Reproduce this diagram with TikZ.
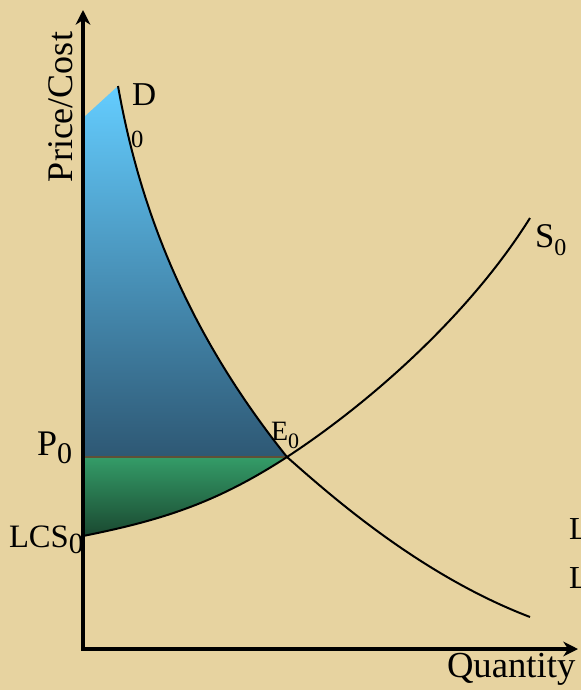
\documentclass[tikz,border=0pt]{standalone}
\usepackage{fontspec}
\setmainfont{Liberation Serif}
\usetikzlibrary{arrows.meta}
\definecolor{papyrus}{RGB}{231,211,160}
\definecolor{blueTop}{RGB}{100,205,255}
\definecolor{blueBot}{RGB}{46,88,116}
\definecolor{greenTop}{RGB}{52,156,104}
\definecolor{greenBot}{RGB}{26,72,48}
\definecolor{priceline}{RGB}{95,80,55}
\tikzset{
  axis/.style={line width=2.4pt, line join=miter, {Stealth[length=11pt,width=11pt,inset=3.5pt]}-{Stealth[length=11pt,width=11pt,inset=3.5pt]}},
  curve/.style={line width=1.5pt, black},
  lbl/.style={inner sep=0pt, outer sep=0pt, text=black},
}
\begin{document}
\begin{tikzpicture}[x=0.75pt,y=-0.75pt]
\fill[papyrus] (0,0) rectangle (581,690);
\useasboundingbox (0,0) rectangle (581,690);

\coordinate (O) at (83,649);
\coordinate (ytop) at (83,10);
\coordinate (xend) at (578,649);
\coordinate (E) at (287,457);
\coordinate (P) at (83,457);
\coordinate (LCS) at (83,536);
\coordinate (Dtop) at (118,86);
\coordinate (Dcorner) at (83,118);
\coordinate (Dend) at (530,617);
\coordinate (Send) at (530,218);

% consumer surplus (blue)
\shade[top color=blueTop, bottom color=blueBot]
  (Dcorner) -- (Dtop) .. controls (141,216) and (191,337) .. (E) -- (P) -- cycle;
% producer surplus (green)
\shade[top color=greenTop, bottom color=greenBot]
  (P) -- (E) .. controls (217,502.5) and (163,520) .. (LCS) -- cycle;

% price line
\draw[priceline, line width=1.1pt] (P) -- (E);

% demand curve
\draw[curve] (Dtop) .. controls (141,216) and (191,337) .. (E)
  .. controls (330,495) and (420,575) .. (Dend);
% supply curve
\draw[curve] (LCS) .. controls (163,520) and (217,502.5) .. (E)
  .. controls (371,402) and (470,314) .. (Send);

% axes
\draw[axis] (ytop) -- (O) -- (xend);

% labels
\node[lbl, rotate=90, anchor=base] (ylab) at (72,107) {\fontsize{27}{30}\selectfont Price/Cost};
\node[lbl, anchor=base west] (xlab) at (447,677) {\fontsize{27.5}{30}\selectfont Quantity};
\node[lbl, anchor=base west] (Dlab) at (132,105) {\fontsize{25}{28}\selectfont D};
\node[lbl, anchor=base west] (Dsub) at (131,147) {\fontsize{18.5}{20}\selectfont 0};
\node[lbl, anchor=base west] (Plab) at (37,455) {\fontsize{27}{30}\selectfont P\raisebox{-6pt}{\fontsize{22.5}{24}\selectfont 0}};
\node[lbl, anchor=base west] (LCSlab) at (9,547) {\fontsize{24.5}{27}\selectfont LCS\raisebox{-5pt}{\fontsize{22}{24}\selectfont 0}};
\node[lbl, anchor=base west] (Elab) at (271,440) {\fontsize{21}{24}\selectfont E\raisebox{-6pt}{\fontsize{16.5}{18}\selectfont 0}};
\node[lbl, anchor=base west] (Slab) at (535,247) {\fontsize{26}{28}\selectfont S\raisebox{-6.5pt}{\fontsize{18}{20}\selectfont 0}};
\node[lbl, anchor=base west] (L1) at (569,539) {\fontsize{24}{26}\selectfont L};
\node[lbl, anchor=base west] (L2) at (569,588) {\fontsize{24}{26}\selectfont L};
\end{tikzpicture}
\end{document}
